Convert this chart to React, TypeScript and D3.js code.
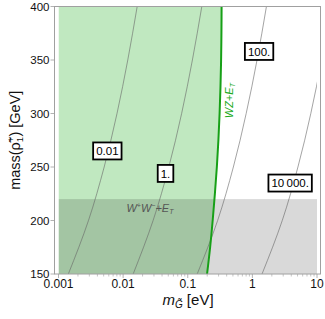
import React from "react";
import * as d3 from "d3";

const xTickValues = [0.001, 0.01, 0.1, 1, 10];
const xTickLabels = ["0.001", "0.01", "0.1", "1", "10"];
const yTickValues = [150, 200, 250, 300, 350, 400];

const contourMasses = [150, 200, 250, 300, 350, 400];
const contour001 = [0.00142, 0.00291, 0.00509, 0.00804, 0.0118, 0.0165];
const contour1 = [0.0143, 0.0291, 0.0509, 0.0804, 0.118, 0.165];
const contour100 = [0.14, 0.29, 0.508, 0.802, 1.18, 1.65];
const contour10000 = [1.41, 2.9, 5.07, 8.02, 11.8, 16.5];

const contourLabels = ["0.01", "1.", "100.", "10\u2009000."];
const contourLabelMass = [265, 244, 358, 235];
const contourLabelM = [0.0057, 0.0453, 1.27, 3.84];

const wzMasses = [150, 175, 200, 225, 250, 275, 300, 325, 350, 375, 400];
const wzBoundary = [0.199, 0.222, 0.243, 0.263, 0.282, 0.298, 0.311, 0.321, 0.328, 0.332, 0.334];

const wwMassMax = 220;

export default function App() {
  const W = 325, H = 319;
  const left = 54.5, right = 320.5, top = 6.5, bottom = 274;
  const x = d3.scaleLog().domain([0.001, 10]).range([58.5, 317]);
  const y = d3.scaleLinear().domain([150, 400]).range([bottom, top]);
  const font = "'Liberation Sans', Arial, sans-serif";

  const area = d3
    .area<number>()
    .y((_, i) => y(wzMasses[i]))
    .x0(() => x(0.001))
    .x1((d) => x(d))
    .curve(d3.curveMonotoneY);
  const boundary = d3
    .line<number>()
    .y((_, i) => y(wzMasses[i]))
    .x((d) => x(d))
    .curve(d3.curveMonotoneY);
  const contourLine = d3
    .line<number>()
    .y((_, i) => y(contourMasses[i]))
    .x((d) => x(d))
    .curve(d3.curveMonotoneY);

  const contours = [contour001, contour1, contour100, contour10000];

  const minorTicks: number[] = [];
  for (let e = -3; e < 1; e++) {
    for (let k = 2; k <= 9; k++) minorTicks.push(k * Math.pow(10, e));
  }

  const labelWidth = (s: string) => {
    let w = 0;
    for (const c of s) w += c === "." ? 3.2 : c === "\u2009" ? 2.2 : 6.4;
    return w;
  };

  return (
    <svg width={W} height={H} style={{ position: "absolute", left: 0, top: 0 }} fontFamily={font}>
      <defs>
        <clipPath id="plotclip">
          <rect x={x(0.001)} y={top} width={x(10) - x(0.001)} height={bottom - top} />
        </clipPath>
      </defs>
      <g clipPath="url(#plotclip)">
        <path d={area(wzBoundary) || ""} fill="#c0e8c0" />
        <rect
          x={x(0.001)}
          y={y(wwMassMax)}
          width={x(10) - x(0.001)}
          height={y(150) - y(wwMassMax)}
          fill="#000"
          fillOpacity={0.15}
        />
        {contours.map((c, i) => (
          <path key={i} d={contourLine(c) || ""} fill="none" stroke="#666" strokeWidth={0.6} />
        ))}
        <path d={boundary(wzBoundary) || ""} fill="none" stroke="#17a017" strokeWidth={2} />
      </g>

      {contourLabels.map((s, i) => {
        const cx = x(contourLabelM[i]);
        const cy = y(contourLabelMass[i]);
        const w = labelWidth(s) + 6;
        return (
          <g key={s}>
            <rect x={cx - w / 2} y={cy - 8.5} width={w} height={17} fill="#fff" stroke="#000" strokeWidth={1.8} />
            <text x={cx} y={cy + 4.2} textAnchor="middle" fontSize={11.5} fill="#000">
              {s}
            </text>
          </g>
        );
      })}

      <text
        transform={`translate(${x(0.435)},${y(312)}) rotate(-90)`}
        textAnchor="middle"
        fontSize={11}
        fill="#22aa22"
        fontStyle="italic"
        dy="0.35em"
      >
        WZ+E<tspan fontSize={7} dy={2}>T</tspan>
      </text>
      <text
        x={x(0.026)}
        y={y(211.7)}
        textAnchor="middle"
        fontSize={11}
        fill="#555"
        fontStyle="italic"
        dy="0.35em"
      >
        W<tspan fontSize={7} dy={-4}>+</tspan>
        <tspan dy={4}>W</tspan>
        <tspan fontSize={7} dy={-4}>−</tspan>
        <tspan dy={4}>+E</tspan>
        <tspan fontSize={7} dy={2}>T</tspan>
      </text>

      <rect x={left} y={top} width={right - left} height={bottom - top} fill="none" stroke="#a0a0a0" strokeWidth={1} />

      {xTickValues.map((v, i) => (
        <g key={v}>
          <line x1={x(v)} x2={x(v)} y1={bottom} y2={bottom + 4} stroke="#a0a0a0" strokeWidth={0.8} />
          <text x={x(v)} y={bottom + 14} textAnchor="middle" fontSize={12} fill="#111">
            {xTickLabels[i]}
          </text>
        </g>
      ))}
      {minorTicks.map((v) => (
        <line key={v} x1={x(v)} x2={x(v)} y1={bottom} y2={bottom + 2.5} stroke="#a0a0a0" strokeWidth={0.6} />
      ))}
      {yTickValues.map((v) => (
        <g key={v}>
          <line x1={left - 4} x2={left} y1={y(v)} y2={y(v)} stroke="#a0a0a0" strokeWidth={0.8} />
          <text x={left - 5} y={y(v)} dy="0.35em" textAnchor="end" fontSize={11.5} fill="#111">
            {v}
          </text>
        </g>
      ))}

      <text x={188} y={305} textAnchor="middle" fontSize={15} fill="#111">
        <tspan fontStyle="italic">m</tspan>
        <tspan fontStyle="italic" fontSize={10} dy={3}>G̃</tspan>
        <tspan dy={-3}> [eV]</tspan>
      </text>

      <text transform={`translate(20,${(top + bottom) / 2}) rotate(-90)`} textAnchor="middle" fontSize={14.5} fill="#111">
        mass(ρ̃<tspan fontSize={9.5} dy={3}>1</tspan>
        <tspan fontSize={9.5} dx={-5.3} dy={-9}>+</tspan>
        <tspan dy={6}>) [GeV]</tspan>
      </text>
    </svg>
  );
}
